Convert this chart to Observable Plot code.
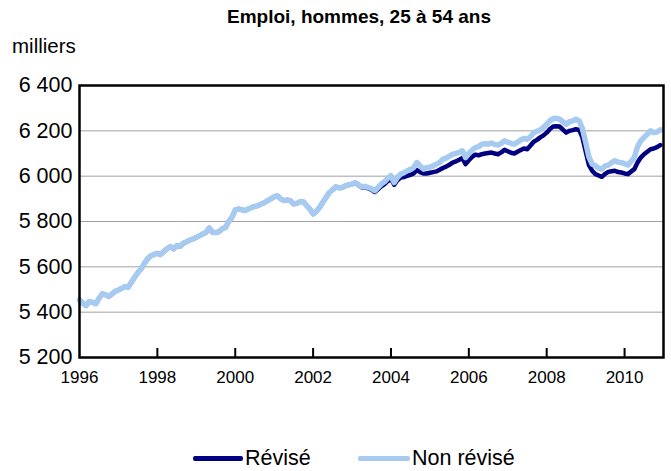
<!DOCTYPE html>
<html><head><meta charset="utf-8">
<script src="https://cdn.jsdelivr.net/npm/d3@7"></script>
<script src="https://cdn.jsdelivr.net/npm/@observablehq/plot@0.6"></script>
<style>
body{margin:0;background:#fff;font-family:"Liberation Sans",Arial,sans-serif;}
#wrap{position:relative;width:671px;height:471px;overflow:hidden;background:#fff}
#title{position:absolute;left:359px;top:6px;transform:translateX(-50%);white-space:nowrap;font-weight:bold;font-size:19px;color:#000}
#unit{position:absolute;left:12px;top:34px;font-size:20.5px;color:#000}
#chart{position:absolute;left:0;top:0}
#legend{position:absolute;left:0;top:445px;width:671px;height:26px}
.li{position:absolute;top:0;font-size:21.5px;line-height:26px;color:#000}
.sw{position:absolute;top:11px;height:5px;border-radius:2px}
</style>
</head><body>
<div id="wrap">
  <div id="chart"></div>
  <div id="title">Emploi, hommes, 25 à 54 ans</div>
  <div id="unit">milliers</div>
  <div id="legend"></div>
</div>
<script>
// Series labels
const seriesNames = ["Révisé", "Non révisé"];
const seriesColors = ["#000080", "#a6caf0"];
const startYear = 1996;
// Tick labels
const xTicks = [1996, 1998, 2000, 2002, 2004, 2006, 2008, 2010];
const yTicks = [5200, 5400, 5600, 5800, 6000, 6200, 6400];

// Monthly values, thousands, Jan 1996 - Dec 2002 (both series coincide)
const common = [
  5454, 5440, 5429, 5447, 5443, 5437, 5460, 5481, 5477, 5469, 5480, 5492,
  5498, 5505, 5513, 5510, 5532, 5554, 5575, 5591, 5615, 5635, 5649, 5655,
  5660, 5654, 5668, 5680, 5689, 5679, 5693, 5690, 5704, 5710, 5718, 5723,
  5730, 5737, 5745, 5752, 5772, 5752, 5752, 5755, 5768, 5774, 5800, 5818,
  5851, 5855, 5852, 5848, 5855, 5862, 5866, 5870, 5877, 5883, 5892, 5900,
  5909, 5914, 5900, 5892, 5895, 5892, 5877, 5880, 5887, 5887, 5870, 5855,
  5833, 5845, 5862, 5885, 5906, 5928, 5940, 5953, 5948, 5950, 5958, 5962
];
// Jan 2003 - Dec 2010
const revisedLate = [
  5965, 5970, 5960, 5950, 5952, 5946, 5940, 5930, 5942, 5955, 5965, 5978,
  5990, 5962, 5982, 5994, 5996, 6002, 6006, 6012, 6027, 6018, 6012, 6012,
  6015, 6018, 6021, 6028, 6036, 6042, 6050, 6060, 6065, 6072, 6080, 6053,
  6070, 6085, 6095, 6092, 6097, 6100, 6102, 6104, 6100, 6097, 6105, 6116,
  6110, 6103, 6100, 6108, 6115, 6122, 6119, 6135, 6152, 6160, 6171, 6180,
  6192, 6208, 6219, 6220, 6219, 6205, 6192, 6200, 6203, 6207, 6204, 6171,
  6110, 6050, 6024, 6009, 6003, 5997, 6010, 6019, 6022, 6024, 6018, 6016,
  6012, 6009, 6020, 6031, 6060, 6082, 6097, 6108, 6119, 6122, 6128, 6137
];
const unrevisedLate = [
  5965, 5972, 5962, 5953, 5955, 5950, 5945, 5936, 5950, 5965, 5975, 5990,
  6002, 5972, 5995, 6009, 6015, 6024, 6030, 6038, 6060, 6045, 6031, 6038,
  6040, 6045, 6053, 6060, 6075, 6080, 6088, 6097, 6100, 6105, 6112, 6082,
  6100, 6115, 6126, 6130, 6141, 6143, 6142, 6146, 6140, 6137, 6145, 6156,
  6150, 6145, 6141, 6150, 6160, 6166, 6163, 6175, 6192, 6198, 6204, 6215,
  6229, 6245, 6254, 6255, 6251, 6240, 6229, 6240, 6244, 6251, 6244, 6210,
  6150, 6085, 6053, 6046, 6035, 6031, 6045, 6049, 6060, 6068, 6062, 6060,
  6055, 6049, 6065, 6082, 6130, 6156, 6171, 6185, 6200, 6192, 6195, 6204
];

const revised = common.concat(revisedLate);
const unrevised = common.concat(unrevisedLate);
const toRows = (arr, s) => arr.map((v, i) => ({t: startYear + i / 12, v, s}));
const rowsR = toRows(revised, seriesNames[0]);
const rowsU = toRows(unrevised, seriesNames[1]);

const fmtY = d => d3.format(",")(d).replace(",", " ");
const fmtX = d => String(d);

const plot = Plot.plot({
  width: 671, height: 400,
  marginLeft: 79, marginRight: 8, marginTop: 85, marginBottom: 43,
  style: {fontFamily: "'Liberation Sans', Arial, sans-serif", fontSize: "18px", color: "#000", background: "transparent"},
  x: {domain: [1996, 2011]},
  y: {domain: [5200, 6400]},
  marks: [
    Plot.gridY(yTicks.slice(1, -1), {stroke: "#a0a0a0", strokeOpacity: 1, strokeWidth: 1}),
    Plot.line(rowsR, {x: "t", y: "v", stroke: seriesColors[0], strokeWidth: 4.5, curve: "linear"}),
    Plot.line(rowsU, {x: "t", y: "v", stroke: seriesColors[1], strokeWidth: 5.5, curve: "linear"}),
    Plot.axisY(yTicks, {tickSize: 0, tickPadding: 7, label: null, fontSize: 21.5, tickFormat: fmtY}),
    Plot.axisX(xTicks.slice(1), {tickSize: -9, tickFormat: () => "", label: null, strokeWidth: 2}),
    Plot.axisX(xTicks, {tickSize: 0, tickPadding: 13, label: null, fontSize: 17, tickFormat: fmtX}),
    Plot.frame({stroke: "#000", strokeWidth: 2.5})
  ]
});
document.getElementById("chart").appendChild(plot);

const legend = document.getElementById("legend");
const items = [{x: 193, w: 50}, {x: 358, w: 52}];
seriesNames.forEach((name, i) => {
  const sw = document.createElement("div");
  sw.className = "sw";
  sw.style.left = items[i].x + "px";
  sw.style.width = items[i].w + "px";
  sw.style.background = seriesColors[i];
  legend.appendChild(sw);
  const t = document.createElement("div");
  t.className = "li";
  t.style.left = (items[i].x + items[i].w + 2) + "px";
  t.textContent = name;
  legend.appendChild(t);
});
</script>
</body></html>
